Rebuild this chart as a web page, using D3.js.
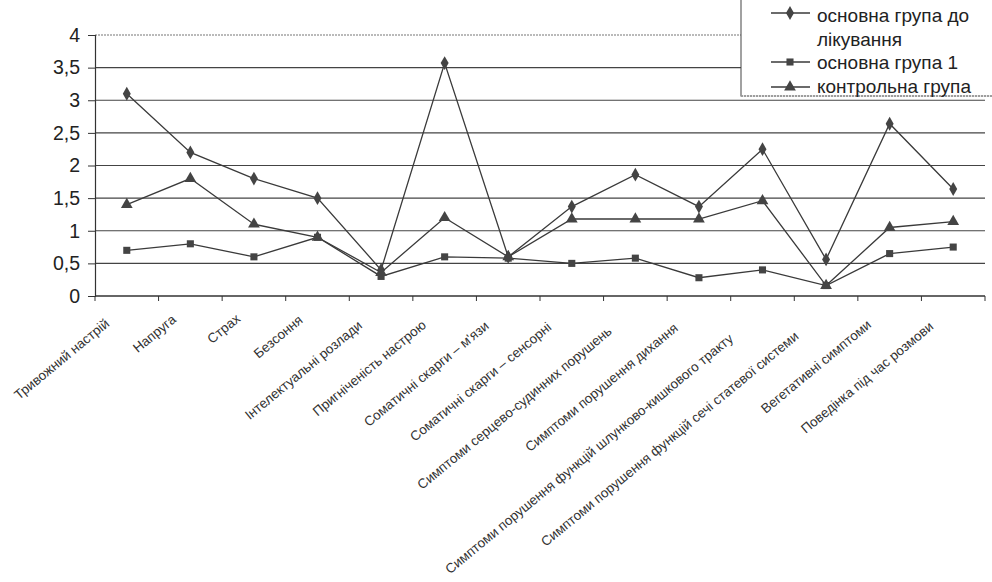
<!DOCTYPE html>
<html>
<head>
<meta charset="utf-8">
<script src="https://cdn.jsdelivr.net/npm/d3@7"></script>
<style>
  body { margin: 0; background: #fff; }
  svg { display: block; font-family: "Liberation Sans", Arial, sans-serif; }
</style>
</head>
<body>
<div class="chart"></div>
<script>
// categories along x
var categories = [
    "Тривожний настрій",
    "Напруга",
    "Страх",
    "Безсоння",
    "Інтелектуальні розлади",
    "Пригніченість настрою",
    "Соматичні скарги – м'язи",
    "Соматичні скарги – сенсорні",
    "Симптоми серцево-судинних порушень",
    "Симптоми порушення дихання",
    "Симптоми порушення функцій шлунково-кишкового тракту",
    "Симптоми порушення функцій сечі статевої системи",
    "Вегетативні симптоми",
    "Поведінка під час розмови"
];

// series values
var beforeTreatment = [3.1, 2.2, 1.8, 1.5, 0.4, 3.57, 0.6, 1.37, 1.86, 1.37, 2.25, 0.56, 2.64, 1.64];
var mainGroup1 = [0.7, 0.8, 0.6, 0.9, 0.3, 0.6, 0.58, 0.5, 0.58, 0.28, 0.4, 0.16, 0.65, 0.75];
var controlGroup = [1.4, 1.8, 1.1, 0.9, 0.36, 1.2, 0.6, 1.18, 1.18, 1.18, 1.46, 0.16, 1.05, 1.14];

var seriesNames = [["основна група до", "лікування"], ["основна група 1"], ["контрольна група"]];
var yTicks = [0, 0.5, 1, 1.5, 2, 2.5, 3, 3.5, 4];

var width = 992, height = 582;
var plotLeft = 95, plotRight = 985, plotTop = 35, plotBottom = 296;

var svg = d3.select(".chart").append("svg")
    .attr("width", width)
    .attr("height", height);

var x = d3.scalePoint().domain(categories).range([plotLeft, plotRight]).padding(0.5);
var xBand = d3.scaleBand().domain(categories).range([plotLeft, plotRight]);
var y = d3.scaleLinear().domain([0, 4]).range([plotBottom, plotTop]);

var ink = "#333";

//////// gridlines
svg.append("g").selectAll("line")
    .data(yTicks.filter(function(d) { return d > 0; }))
    .enter().append("line")
    .attr("x1", plotLeft)
    .attr("x2", plotRight)
    .attr("y1", function(d) { return y(d); })
    .attr("y2", function(d) { return y(d); })
    .attr("stroke", function(d) { return d === 4 ? "#777" : "#444"; })
    .attr("stroke-width", 1.2)
    .attr("stroke-dasharray", function(d) { return d === 4 ? "2,1" : null; });

//////// y axis
var yAxis = svg.append("g")
    .attr("transform", "translate(" + plotLeft + ",0)")
    .call(d3.axisLeft(y).tickValues(yTicks).tickSize(7).tickPadding(8)
        .tickFormat(function(d) { return String(d).replace(".", ","); }));
yAxis.select(".domain").attr("stroke", ink).attr("stroke-width", 1.2);
yAxis.selectAll(".tick line").attr("stroke", ink);
yAxis.selectAll("text")
    .attr("font-family", "Liberation Sans, Arial, sans-serif")
    .attr("font-size", "19.5px").attr("fill", "#222");

//////// x axis (ticks between categories)
svg.append("line")
    .attr("x1", plotLeft).attr("x2", plotRight)
    .attr("y1", plotBottom).attr("y2", plotBottom)
    .attr("stroke", ink).attr("stroke-width", 1.5);

svg.append("g").selectAll("line")
    .data(categories.concat([null]))
    .enter().append("line")
    .attr("x1", function(d, i) { return plotLeft + i * xBand.step(); })
    .attr("x2", function(d, i) { return plotLeft + i * xBand.step(); })
    .attr("y1", plotBottom)
    .attr("y2", plotBottom + 5)
    .attr("stroke", ink);

// rotated category labels; longer ones sit a little lower and further left
svg.append("g").selectAll("text")
    .data(categories)
    .enter().append("text")
    .attr("text-anchor", "end")
    .attr("font-size", "13.5px")
    .attr("fill", "#333")
    .text(function(d) { return d; })
    .attr("transform", function(d) {
        var len = this.getComputedTextLength();
        var tx = x(d) - 11 - 0.047 * len;
        var ty = plotBottom + 22 + 0.06 * len;
        return "translate(" + tx + "," + ty + ") rotate(-39.5)";
    });

//////// series
var symbols = [d3.symbolDiamond, d3.symbolSquare, d3.symbolTriangle];
var symbolSizes = [55, 50, 60];
var allSeries = [beforeTreatment, mainGroup1, controlGroup];

var line = d3.line()
    .x(function(d, i) { return x(categories[i]); })
    .y(function(d) { return y(d); });

allSeries.forEach(function(values, s) {
    svg.append("path")
        .attr("d", line(values))
        .attr("fill", "none")
        .attr("stroke", "#3a3a3a")
        .attr("stroke-width", 1.3);

    svg.append("g").selectAll("path")
        .data(values)
        .enter().append("path")
        .attr("transform", function(d, i) {
            return "translate(" + x(categories[i]) + "," + y(d) + ")";
        })
        .attr("d", d3.symbol().type(symbols[s]).size(symbolSizes[s]))
        .attr("fill", "#444");
});

//////// legend
var legend = svg.append("g");
legend.append("rect")
    .attr("x", 741).attr("y", -2)
    .attr("width", 260).attr("height", 98)
    .attr("fill", "#fff")
    .attr("stroke", "#444")
    .attr("stroke-width", 1);
legend.append("line")
    .attr("x1", 741).attr("x2", 992).attr("y1", 96).attr("y2", 96)
    .attr("stroke", "#fff").attr("stroke-width", 1.5);
legend.append("line")
    .attr("x1", 741).attr("x2", 992).attr("y1", 96).attr("y2", 96)
    .attr("stroke", "#555").attr("stroke-dasharray", "2,1");

var legendLineY = [13, 62, 87];
var legendTextY = [22, 69, 93];

seriesNames.forEach(function(lines, s) {
    legend.append("line")
        .attr("x1", 771).attr("x2", 810)
        .attr("y1", legendLineY[s]).attr("y2", legendLineY[s])
        .attr("stroke", "#3a3a3a").attr("stroke-width", 1.3);
    legend.append("path")
        .attr("transform", "translate(790," + legendLineY[s] + ")")
        .attr("d", d3.symbol().type(symbols[s]).size(symbolSizes[s]))
        .attr("fill", "#444");
    var t = legend.append("text")
        .attr("x", 817)
        .attr("y", legendTextY[s])
        .attr("font-size", "19px")
        .attr("fill", "#222");
    lines.forEach(function(l, k) {
        t.append("tspan").attr("x", 817).attr("dy", k === 0 ? 0 : 24).text(l);
    });
});
</script>
</body>
</html>
